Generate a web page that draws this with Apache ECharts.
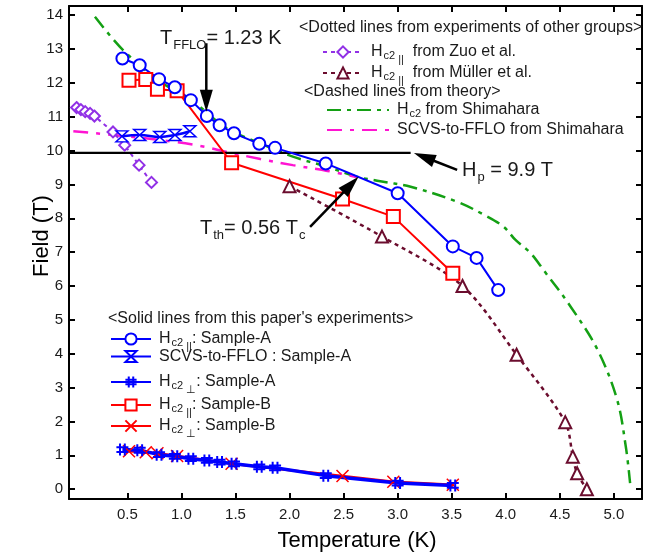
<!DOCTYPE html>
<html><head><meta charset="utf-8">
<script src="https://cdn.jsdelivr.net/npm/echarts@6/dist/echarts.min.js"></script>
<style>html,body{margin:0;padding:0;background:#fff}#c{width:653px;height:554px}</style>
</head><body><div id="c"></div>
<script>
// ---------- axes ----------
const X_MIN = -0.04, X_MAX = 5.26;
const Y_MIN = -0.29, Y_MAX = 14.27;
const xTicks = [0.5, 1.0, 1.5, 2.0, 2.5, 3.0, 3.5, 4.0, 4.5, 5.0];
const yTicks = [0, 1, 2, 3, 4, 5, 6, 7, 8, 9, 10, 11, 12, 13, 14];

// ---------- this paper, Sample-A ----------
const hc2ParA_T = [0.454, 0.614, 0.793, 0.939, 1.087, 1.235, 1.353, 1.486, 1.72, 1.866, 2.335, 3.0, 3.51, 3.73, 3.93];
const hc2ParA_H = [12.72, 12.52, 12.11, 11.87, 11.49, 11.02, 10.75, 10.51, 10.20, 10.08, 9.62, 8.74, 7.17, 6.83, 5.88];
const scvsA_T = [0.45, 0.614, 0.80, 0.94, 1.078];
const scvsA_H = [10.42, 10.46, 10.40, 10.46, 10.57];
const hc2PerpA_T = [0.454, 0.614, 0.793, 0.939, 1.087, 1.235, 1.353, 1.486, 1.72, 1.866, 2.335, 3.0, 3.51];
const hc2PerpA_H = [1.17, 1.15, 1.02, 0.97, 0.90, 0.85, 0.80, 0.75, 0.66, 0.63, 0.40, 0.18, 0.11];
// ---------- this paper, Sample-B ----------
const hc2ParB_T = [0.515, 0.67, 0.778, 0.96, 1.464, 2.49, 2.96, 3.51];
const hc2ParB_H = [12.08, 12.10, 11.81, 11.77, 9.64, 8.57, 8.05, 6.38];
const hc2PerpB_T = [0.515, 0.67, 0.778, 0.96, 1.464, 2.49, 2.96, 3.51];
const hc2PerpB_H = [1.12, 1.09, 1.06, 0.98, 0.75, 0.39, 0.22, 0.13];
// ---------- other groups ----------
const zuo_T = [0.03, 0.07, 0.11, 0.155, 0.195, 0.367, 0.475, 0.608, 0.723];
const zuo_H = [11.27, 11.21, 11.15, 11.10, 11.02, 10.55, 10.16, 9.57, 9.06];
const muller_T = [2.0, 2.855, 3.6, 4.1, 4.55, 4.62, 4.66, 4.75];
const muller_H = [8.95, 7.46, 6.0, 3.97, 1.98, 0.96, 0.47, 0.0];
// ---------- theory (Shimahara) ----------
const shHc2_T = [0.2, 0.46, 0.8, 1.11, 1.42, 1.73, 2.03, 2.35, 2.62, 2.81, 3.12, 3.55, 3.8, 3.98, 4.09, 4.23, 4.35, 4.6, 4.85, 5.03, 5.11, 5.15];
const shHc2_H = [13.95, 12.97, 12.05, 11.44, 10.66, 10.21, 9.82, 9.52, 9.23, 9.11, 8.93, 8.49, 8.1, 7.75, 7.36, 6.97, 6.47, 5.39, 4.11, 2.64, 1.26, 0.18];
const shScvs_T = [0.0, 0.5, 0.95, 1.2, 1.42, 1.73, 2.03, 2.35, 2.62];
const shScvs_H = [10.57, 10.42, 10.25, 10.12, 9.96, 9.75, 9.57, 9.40, 9.22];
// ---------- annotations ----------
const hp_T = [X_MIN, 3.12];
const hp_H = [9.93, 9.93];
const arrowFrom = [[1.23, 13.17], [3.55, 9.43], [2.19, 7.75]];
const arrowTo   = [[1.23, 11.15], [3.15, 9.93], [2.638, 9.227]];

const FONT = '"Liberation Sans", Arial, Helvetica, sans-serif';
const TXT = '#1a1a1a';
const BLUE = '#0000ff', RED = '#ff0000', PURPLE = '#9130e6', MAROON = '#6b0d2e', GREEN = '#14a014', MAGENTA = '#ff14d2';
const zip = (a, b) => a.map((v, i) => [v, b[i]]);

const HOURGLASS = 'path://M0,0L10,0L0,10L10,10Z';
const HASH = 'path://M3,0L3,10M7,0L7,10M0,3L10,3M0,7L10,7';
const XMARK = 'path://M0,0L10,10M10,0L0,10';

const N = {
  zuo: 'zuo', muller: 'muller', shHc2: 'shHc2', shScvs: 'shScvs',
  aPar: 'aPar', aScvs: 'aScvs', aPerp: 'aPerp', bPar: 'bPar', bPerp: 'bPerp'
};
const legendText = {
  zuo: '{m|H}{s|c2}{ss|||}{m|  from Zuo et al.}',
  muller: '{m|H}{s|c2}{ss|||}{m|  from Müller et al.}',
  shHc2: '{m|H}{s|c2}{m| from Shimahara}',
  shScvs: '{m|SCVS-to-FFLO from Shimahara}',
  aPar: '{m|H}{s|c2}{ss|||}{m|: Sample-A}',
  aScvs: '{m|SCVS-to-FFLO : Sample-A}',
  aPerp: '{m|H}{s|c2}{ss|⊥}{m|: Sample-A}',
  bPar: '{m|H}{s|c2}{ss|||}{m|: Sample-B}',
  bPerp: '{m|H}{s|c2}{ss|⊥}{m|: Sample-B}'
};
const RICH = {
  m: {fontSize: 16, fontFamily: FONT, color: TXT, lineHeight: 20},
  s: {fontSize: 11, fontFamily: FONT, color: TXT, lineHeight: 20, padding: [7, 0, 0, 1]},
  ss: {fontSize: 11, fontFamily: FONT, color: TXT, lineHeight: 20, padding: [15, 0, 0, 3]}
};
function leg(item, left, cy, w) {
  return {
    data: [item], left: left, top: cy - 10, itemWidth: w, itemHeight: 14, padding: 0,
    selectedMode: false, formatter: n => legendText[n],
    textStyle: {color: TXT, fontFamily: FONT, fontSize: 16, padding: [0, 0, 0, 3], rich: RICH}
  };
}

const axisLineStyle = {color: '#000', width: 2};
function xAxis(pos, labels) {
  return {
    type: 'value', position: pos, min: X_MIN, max: X_MAX,
    axisLine: {show: true, onZero: false, lineStyle: axisLineStyle},
    axisTick: {show: true, inside: true, length: 6, lineStyle: axisLineStyle, customValues: xTicks},
    axisLabel: {show: labels, customValues: xTicks, margin: 8, fontSize: 15, fontFamily: FONT, color: TXT,
      formatter: v => v.toFixed(1)},
    splitLine: {show: false}
  };
}
function yAxis(pos, labels) {
  return {
    type: 'value', position: pos, min: Y_MIN, max: Y_MAX,
    axisLine: {show: true, onZero: false, lineStyle: axisLineStyle},
    axisTick: {show: true, inside: true, length: 6, lineStyle: axisLineStyle, customValues: yTicks},
    axisLabel: {show: labels, customValues: yTicks, margin: 6, fontSize: 15, fontFamily: FONT, color: TXT},
    splitLine: {show: false}
  };
}

const series = [
  {name: N.shHc2, type: 'line', data: zip(shHc2_T, shHc2_H), smooth: 0.35, showSymbol: false, symbol: 'circle',
   lineStyle: {color: GREEN, width: 2.5, type: [14, 6, 4, 6]}, itemStyle: {color: GREEN}},
  {name: N.shScvs, type: 'line', data: zip(shScvs_T, shScvs_H), smooth: 0.35, showSymbol: false, symbol: 'circle',
   lineStyle: {color: MAGENTA, width: 2.5, type: [15, 8, 4, 8]}, itemStyle: {color: MAGENTA}},
  {name: N.zuo, type: 'line', data: zip(zuo_T, zuo_H), symbol: 'emptyDiamond', symbolSize: 11,
   lineStyle: {color: PURPLE, width: 2, type: [4, 4]}, itemStyle: {color: PURPLE, borderWidth: 1.5}},
  {name: N.muller, type: 'line', data: zip(muller_T, muller_H), smooth: 0.3, symbol: 'emptyTriangle', symbolSize: 12,
   lineStyle: {color: MAROON, width: 2.5, type: [4, 4]}, itemStyle: {color: MAROON, borderWidth: 1.5}},
  {name: 'hp', type: 'line', data: zip(hp_T, hp_H), showSymbol: false, symbol: 'none',
   lineStyle: {color: '#000', width: 2.2}},
  {name: N.bPar, type: 'line', data: zip(hc2ParB_T, hc2ParB_H), symbol: 'emptyRect', symbolSize: 13,
   lineStyle: {color: RED, width: 2}, itemStyle: {color: RED, borderWidth: 1.5}},
  {name: N.bPerp, type: 'line', data: zip(hc2PerpB_T, hc2PerpB_H), symbol: XMARK, symbolSize: 12,
   lineStyle: {color: RED, width: 2.5}, itemStyle: {color: RED, borderColor: RED, borderWidth: 1.5}},
  {name: N.aPar, type: 'line', data: zip(hc2ParA_T, hc2ParA_H), symbol: 'emptyCircle', symbolSize: 12,
   lineStyle: {color: BLUE, width: 2}, itemStyle: {color: BLUE, borderWidth: 1.5}},
  {name: N.aScvs, type: 'line', data: zip(scvsA_T, scvsA_H), smooth: 0.4, symbol: HOURGLASS, symbolSize: [12, 11],
   lineStyle: {color: BLUE, width: 2.5}, itemStyle: {color: '#fff', borderColor: BLUE, borderWidth: 1.5}},
  {name: N.aPerp, type: 'line', data: zip(hc2PerpA_T, hc2PerpA_H), symbol: HASH, symbolSize: 12,
   lineStyle: {color: BLUE, width: 3.5}, itemStyle: {color: BLUE, borderColor: BLUE, borderWidth: 2}}
];

const hidden = {opacity: 0};
const legends = [
  Object.assign(leg(N.zuo, 322, 49, 40)),
  Object.assign(leg(N.muller, 322, 70, 40)),
  Object.assign(leg({name: N.shHc2, itemStyle: hidden}, 326, 111, 62)),
  Object.assign(leg({name: N.shScvs, itemStyle: hidden}, 326, 132, 62)),
  leg(N.aPar, 110, 336, 40),
  leg(N.aScvs, 110, 358.5, 40),
  leg(N.aPerp, 110, 379, 40),
  leg(N.bPar, 110, 402, 40),
  leg(N.bPerp, 110, 423, 40)
];

const chart = echarts.init(document.getElementById('c'));
chart.setOption({
  backgroundColor: '#fff',
  animation: false,
  grid: {left: 69, right: 11, top: 6, bottom: 55, containLabel: false},
  xAxis: [xAxis('bottom', true), xAxis('top', false)],
  yAxis: [yAxis('left', true), yAxis('right', false)],
  legend: legends,
  series: series
});

// ---------- annotations (positioned from data coordinates) ----------
const px = p => chart.convertToPixel({gridIndex: 0}, p);
const g = [];
arrowFrom.forEach((f, i) => {
  const a = px(f), b = px(arrowTo[i]);
  const dx = b[0] - a[0], dy = b[1] - a[1], len = Math.hypot(dx, dy);
  const ux = dx / len, uy = dy / len, L = 22, W = 6.5;
  const bx = b[0] - ux * L, by = b[1] - uy * L;
  g.push({type: 'line', shape: {x1: a[0], y1: a[1], x2: bx + ux * 2, y2: by + uy * 2},
          style: {stroke: '#000', lineWidth: 2.5}, z: 100});
  g.push({type: 'polygon', shape: {points: [[b[0], b[1]], [bx - uy * W, by + ux * W], [bx + uy * W, by - ux * W]]},
          style: {fill: '#000'}, z: 100});
});
const AR = {
  m: {fontSize: 20, fontFamily: FONT, color: TXT, lineHeight: 24},
  s: {fontSize: 13, fontFamily: FONT, color: TXT, lineHeight: 24, padding: [14, 0, 0, 1]}
};
function txt(x, y, text, rich, extra) {
  return Object.assign({type: 'text', x: x, y: y, z: 100,
    style: {text: text, rich: rich, verticalAlign: 'middle', align: 'left', fill: TXT, font: '16px ' + FONT}}, extra || {});
}
g.push(txt(160, 38, '{m|T}{s|FFLO}{m|= 1.23 K}', AR));
g.push(txt(462, 170, '{m|H}{s|p}{m| = 9.9 T}', AR));
g.push(txt(200, 228, '{m|T}{s|th}{m|= 0.56 T}{s|c}', AR));
const HR = {m: {fontSize: 16, fontFamily: FONT, color: TXT}};
g.push(txt(299, 28, '{m|<Dotted lines from experiments of other groups>}', HR));
g.push(txt(304, 92, '{m|<Dashed lines from theory>}', HR));
g.push(txt(108, 319, "{m|<Solid lines from this paper's experiments>}", HR));
const TR = {m: {fontSize: 22, fontFamily: FONT, color: TXT}};
g.push(txt(357, 541, '{m|Temperature (K)}', TR, {style: {text: '{m|Temperature (K)}', rich: TR, align: 'center', verticalAlign: 'middle'}}));
g.push({type: 'text', x: 42, y: 236, rotation: Math.PI / 2, z: 100,
        style: {text: '{m|Field (T)}', rich: TR, align: 'center', verticalAlign: 'middle'}});
chart.setOption({graphic: g});
</script>
</body></html>
